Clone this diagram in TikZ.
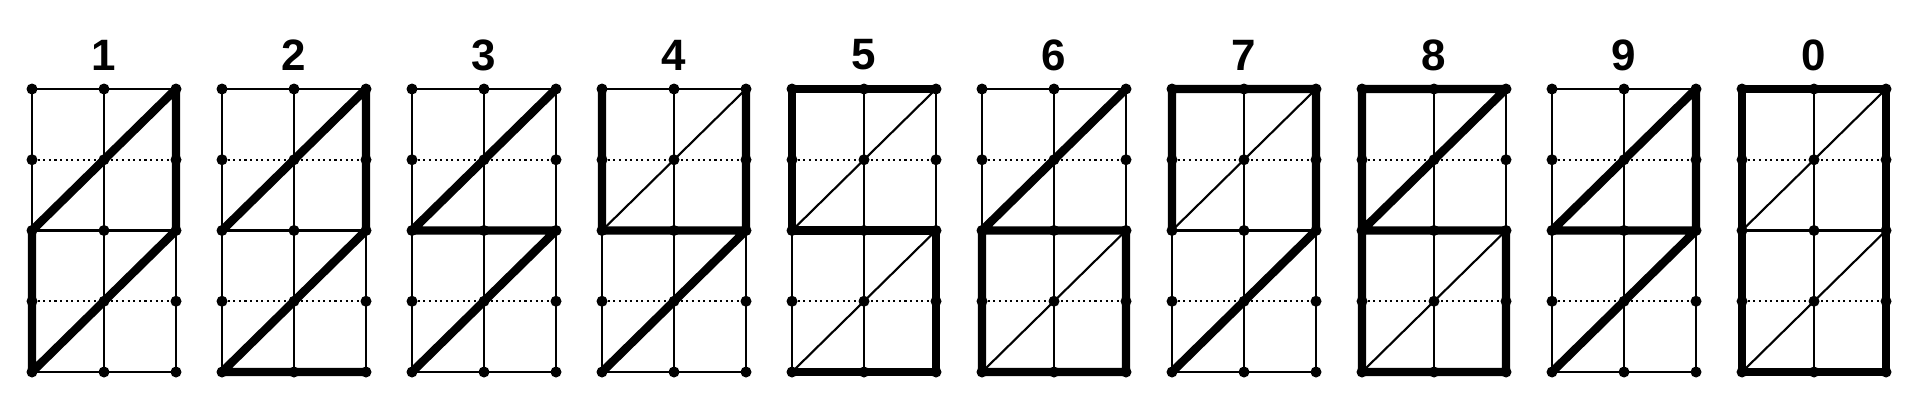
\documentclass[tikz,border=0pt]{standalone}
\usepackage{fontspec}
\setmainfont{Liberation Sans}
\begin{document}
\begin{tikzpicture}[
  thinline/.style={line width=0.6pt},
  dotline/.style={line width=0.6pt, densely dotted},
  thickline/.style={line width=2.4pt, line join=round, line cap=round},
  digitlabel/.style={font=\bfseries\fontsize{12.5}{14}\selectfont, inner sep=0pt}]
\useasboundingbox (0,0) rectangle (19.15,4.15);
% grids of 2x4 cells, one for each digit
\foreach \d [count=\i from 0] in {1,2,3,4,5,6,7,8,9,0} {
  \pgfmathsetmacro{\xo}{0.32+1.9*\i}
  \foreach \c in {0,1,2}
    \foreach \r in {0,...,4}
      \coordinate (p\d-\c\r) at (\xo+0.72*\c, 0.43+0.7075*\r);
  \node[digitlabel] (l\d) at (\xo+0.72, 3.60) {\d};
  \foreach \c in {0,1,2}
    \draw[thinline] (p\d-\c0)--(p\d-\c4);
  \foreach \r in {0,2,4}
    \draw[thinline] (p\d-0\r)--(p\d-2\r);
  \foreach \r in {1,3}
    \draw[dotline] (p\d-0\r)--(p\d-2\r);
}
% thin diagonals
\draw[thinline] (p4-02)--(p4-24);
\draw[thinline] (p5-02)--(p5-24) (p5-00)--(p5-22);
\draw[thinline] (p6-00)--(p6-22);
\draw[thinline] (p7-02)--(p7-24);
\draw[thinline] (p8-00)--(p8-22);
\draw[thinline] (p0-02)--(p0-24) (p0-00)--(p0-22);
% the digits
\draw[thickline] (p1-02)--(p1-24)--(p1-22)--(p1-00)--(p1-02);
\draw[thickline] (p2-02)--(p2-24)--(p2-22)--(p2-00)--(p2-20);
\draw[thickline] (p3-24)--(p3-02)--(p3-22)--(p3-00);
\draw[thickline] (p4-04)--(p4-02)--(p4-22)--(p4-00) (p4-24)--(p4-22);
\draw[thickline] (p5-24)--(p5-04)--(p5-02)--(p5-22)--(p5-20)--(p5-00);
\draw[thickline] (p6-24)--(p6-02)--(p6-22)--(p6-20)--(p6-00)--(p6-02);
\draw[thickline] (p7-02)--(p7-04)--(p7-24)--(p7-22)--(p7-00);
\draw[thickline] (p8-24)--(p8-04)--(p8-00)--(p8-20)--(p8-22)--(p8-02)--(p8-24);
\draw[thickline] (p9-22)--(p9-02)--(p9-24)--(p9-22)--(p9-00);
\draw[thickline] (p0-00)--(p0-20)--(p0-24)--(p0-04)--(p0-00);
% dots
\foreach \d in {1,2,3,4,5,6,7,8,9,0}
  \foreach \c in {0,1,2}
    \foreach \r in {0,...,4}
      \fill (p\d-\c\r) circle (0.055);
\end{tikzpicture}
\end{document}
